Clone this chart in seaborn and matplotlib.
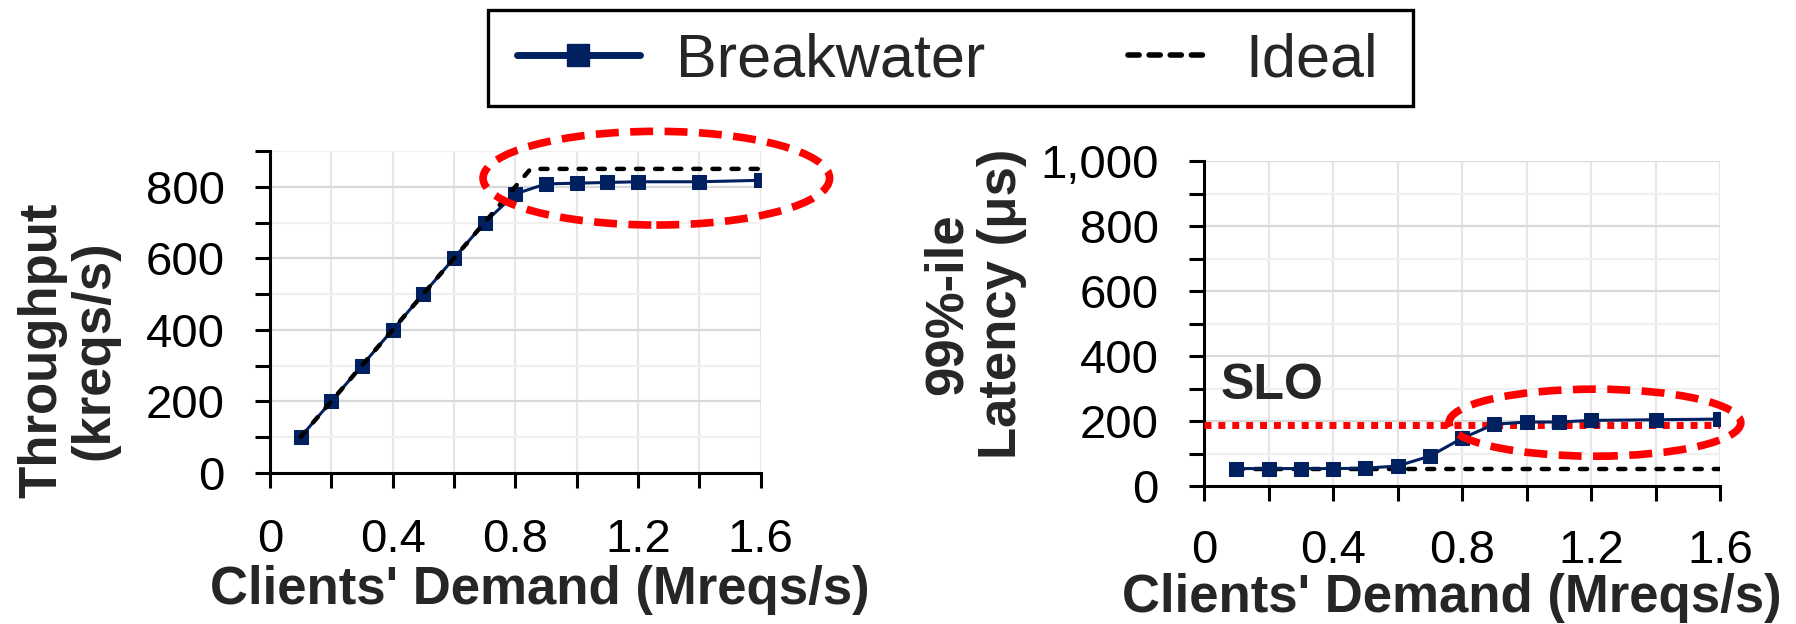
import matplotlib
matplotlib.use("Agg")
import matplotlib.pyplot as plt
import seaborn as sns
import numpy as np
import pandas as pd
from matplotlib.patches import Ellipse, Rectangle
from matplotlib.lines import Line2D
from matplotlib.legend_handler import HandlerLine2D
from matplotlib.ticker import MultipleLocator, FuncFormatter, StrMethodFormatter

# ---------------- data ----------------
demand = [0.1, 0.2, 0.3, 0.4, 0.5, 0.6, 0.7, 0.8, 0.9, 1.0, 1.1, 1.2, 1.4, 1.6]
throughput = [100, 200, 300, 400, 500, 600, 700, 780, 808, 810, 812, 814, 814, 818]
ideal_tput_x = [0.1, 0.85, 1.6]
ideal_tput_y = [100, 850, 850]

latency = [55, 55, 55, 55, 56, 63, 93, 148, 191, 198, 198, 203, 205, 207]
ideal_lat_x = [0.1, 1.6]
ideal_lat_y = [55, 55]
slo = 190
slo_x = [0.0, 1.6]

series_names = ["Breakwater", "Ideal"]
xlabel = "Clients' Demand (Mreqs/s)"
ylabel_left = "Throughput\n(kreqs/s)"
ylabel_right = "99%-ile\nLatency (μs)"

# ---------------- style ----------------
sns.set_theme(style="white")
plt.rcParams["font.family"] = ["Liberation Sans", "DejaVu Sans"]

NAVY = "#002060"
RED = "#ff0000"

fig = plt.figure(figsize=(17.96, 6.24), dpi=100)
axL = fig.add_axes([0.1503, 0.2423, 0.2732, 0.5157])
axR = fig.add_axes([0.6704, 0.2204, 0.2873, 0.5216])

ideal_ls = (0, (1.6, 2.7))

# left panel
sns.lineplot(x=demand, y=throughput, ax=axL, color=NAVY, lw=2.2, marker="s",
             markersize=10, markeredgecolor=NAVY, zorder=3)
sns.lineplot(x=ideal_tput_x, y=ideal_tput_y, ax=axL, color="black", lw=3.2,
             linestyle=ideal_ls, dash_capstyle="round", zorder=4)

# right panel
sns.lineplot(x=ideal_lat_x, y=ideal_lat_y, ax=axR, color="black", lw=3.2,
             linestyle=ideal_ls, dash_capstyle="round", zorder=3)
sns.lineplot(x=slo_x, y=[slo, slo], ax=axR, color=RED, lw=5,
             linestyle=(0, (1, 1)), zorder=4)
sns.lineplot(x=demand, y=latency, ax=axR, color=NAVY, lw=2.2, marker="s",
             markersize=10, markeredgecolor=NAVY, zorder=5)

axR.text(0.05, 270, "SLO", fontsize=36, fontweight="bold", ha="left",
         va="baseline", zorder=6)

# axes styling
for ax, ymax in ((axL, 900), (axR, 1000)):
    ax.set_xlim(0, 1.6)
    ax.set_ylim(0, ymax)
    ax.xaxis.set_major_locator(MultipleLocator(0.4))
    ax.xaxis.set_minor_locator(MultipleLocator(0.2))
    ax.yaxis.set_major_locator(MultipleLocator(200))
    ax.yaxis.set_minor_locator(MultipleLocator(100))
    ax.xaxis.set_major_formatter(FuncFormatter(lambda v, p: f"{v:g}"))
    ax.set_axisbelow(True)
    ax.grid(which="major", axis="y", color="#d9d9d9", lw=1.6)
    ax.grid(which="minor", axis="y", color="#f0f0f0", lw=1.6)
    ax.grid(which="both", axis="x", color="#e6e6e6", lw=1.6)
    for s in ("top", "right"):
        ax.spines[s].set_visible(False)
    for s in ("left", "bottom"):
        ax.spines[s].set_color("black")
        ax.spines[s].set_linewidth(2.2)
    ax.tick_params(which="both", direction="out", length=10.5, width=2.2,
                   color="black", left=True, bottom=True, pad=22)
    ax.tick_params(which="major", labelsize=34, labelcolor="black")
    ax.set_xlabel(xlabel, fontsize=38, fontweight="bold", va="top", ha="center")
    if ax.get_legend() is not None:
        ax.get_legend().remove()

axR.tick_params(axis="x", which="major", pad=20)
axR.yaxis.set_major_formatter(StrMethodFormatter("{x:,.0f}"))

axL.set_ylabel(ylabel_left, fontsize=38, fontweight="bold", ha="center",
               va="center", linespacing=1.05)
axR.set_ylabel(ylabel_right, fontsize=38, fontweight="bold", ha="center",
               va="center", linespacing=1.1)
axL.yaxis.set_label_coords(-0.41, 0.382)
axR.yaxis.set_label_coords(-0.444, 0.56)
axL.xaxis.set_label_coords(0.55, -0.288)
axR.xaxis.set_label_coords(0.48, -0.265)

# highlight ellipses
axL.add_patch(Ellipse((1.26, 824), 1.13, 262, fill=False, edgecolor=RED,
                      lw=5.5, linestyle=(0, (3, 1.5)), clip_on=False, zorder=6))
axR.add_patch(Ellipse((1.212, 196), 0.905, 206, fill=False, edgecolor=RED,
                      lw=5.5, linestyle=(0, (3, 1.5)), clip_on=False, zorder=6))


# legend
class ShortLineHandler(HandlerLine2D):
    """Draws the legend line over only the right part of the handle box."""
    def __init__(self, frac=0.66, **kw):
        super().__init__(**kw)
        self.frac = frac

    def create_artists(self, legend, orig_handle, xdescent, ydescent, width,
                       height, fontsize, trans):
        shift = width * (1 - self.frac)
        return super().create_artists(legend, orig_handle, xdescent - shift,
                                      ydescent, width * self.frac, height,
                                      fontsize, trans)


h_bw = Line2D([], [], color=NAVY, lw=5, marker="s", markersize=16,
              markeredgecolor=NAVY, solid_capstyle="round")
h_ideal = Line2D([], [], color="black", lw=4, linestyle=(0, (2.0, 1.8)),
                 dash_capstyle="round")
leg = fig.legend([h_bw, h_ideal], series_names, loc="center",
                 bbox_to_anchor=(0.5276, 0.903), ncol=2, fontsize=44,
                 frameon=False, handlelength=2.0, handletextpad=0.6,
                 columnspacing=1.65, borderpad=0.2,
                 handler_map={h_ideal: ShortLineHandler(frac=0.66)})

# legend box
W, H = 1796.0, 624.0
fig.patches.append(Rectangle((488 / W, 1 - 106 / H), 925 / W, 96 / H,
                             transform=fig.transFigure, fill=False,
                             edgecolor="black", lw=2.4, zorder=10))

fig.savefig("out.png", dpi=100)
